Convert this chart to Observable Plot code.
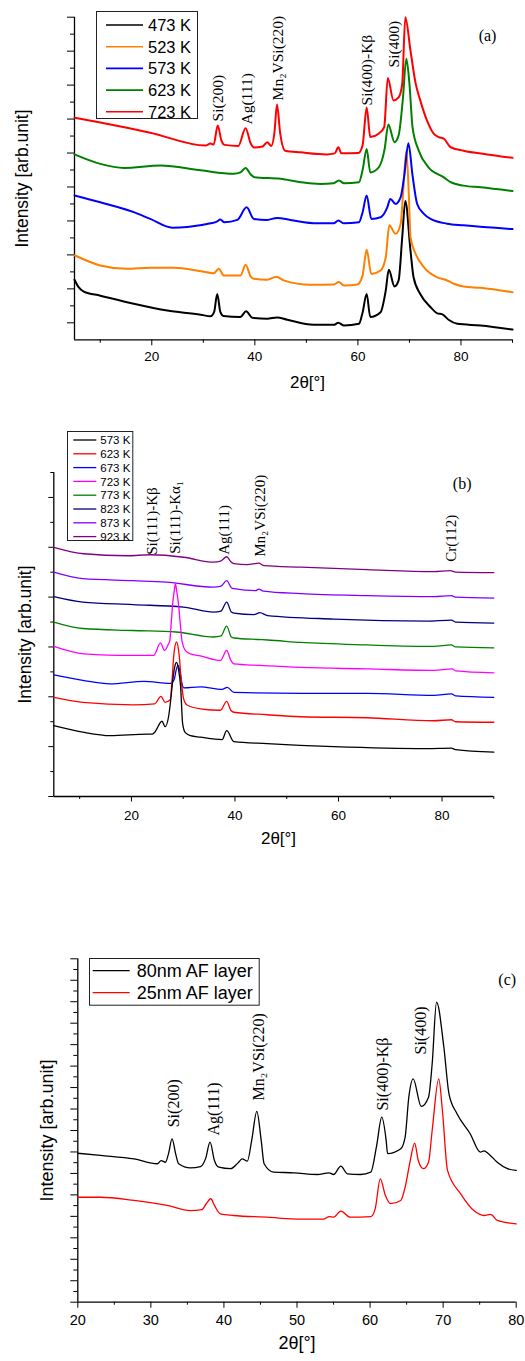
<!DOCTYPE html>
<html><head><meta charset="utf-8">
<script src="https://cdn.jsdelivr.net/npm/d3@7"></script>
<script src="https://cdn.jsdelivr.net/npm/@observablehq/plot@0.6"></script>
<style>
html,body{margin:0;padding:0;background:#fff}
#root{position:relative;width:525px;height:1361px;overflow:hidden;background:#fff}
.pane{position:absolute;left:0}
.legend{position:absolute;overflow:visible}
</style></head><body>
<div id="root"></div>
<script>
// ---------- Panel (a): annealing temperature series ----------
const aLabels = ["473 K", "523 K", "573 K", "623 K", "723 K"];
const aColors = ["#000000", "#ff8000", "#0000ff", "#008000", "#ff0000"];
const a473 = [[5,1.77],[5.8,1.55],[6.8,1.42],[10,1.30],[16.5,1.06],[23,0.86],[29.5,0.74],[31.4,0.69],[32.1,0.82],[32.7,1.35],[33.3,0.82],[33.9,0.70],[37.2,0.67],[38.3,0.84],[39.5,0.65],[42.4,0.62],[44.3,0.66],[46.3,0.59],[51.4,0.44],[55.3,0.44],[56.2,0.50],[57.3,0.42],[60.2,0.47],[60.9,0.80],[61.7,1.35],[62.4,0.67],[64.4,0.81],[65.4,1.45],[66.0,2.06],[67.1,1.57],[67.9,1.75],[68.6,3.02],[69.2,4.09],[70.2,2.63],[70.8,1.84],[72.1,1.35],[74.1,0.96],[75.4,0.78],[76.4,0.75],[77.6,0.59],[79.3,0.47],[83.8,0.42],[90,0.30]];
const a523 = [[5,2.49],[10,2.19],[15.2,2.09],[19.7,2.12],[24.3,2.12],[29.5,2.02],[32,1.96],[33,2.09],[34,1.89],[37.2,1.89],[38.2,2.21],[39.2,1.86],[39.8,1.80],[42.4,1.77],[44.2,1.86],[45.6,1.75],[50.8,1.62],[55.3,1.63],[56.3,1.70],[57.3,1.60],[59.9,1.63],[60.9,1.89],[61.7,2.65],[62.6,1.94],[64.4,2.04],[65.4,2.43],[66.1,3.37],[67.3,3.12],[68.3,3.42],[68.8,4.40],[69.4,5.57],[69.9,4.20],[70.2,3.02],[71.2,2.53],[72.8,2.14],[75.4,1.84],[77.0,1.77],[78.6,1.65],[80.5,1.57],[83.8,1.53],[90,1.40]];
const a573 = [[5,4.25],[10,4.05],[16.5,3.76],[19.7,3.56],[24,3.30],[26.9,3.32],[31.4,3.43],[32.6,3.48],[33.3,3.54],[34.1,3.46],[36.6,3.53],[38.4,3.90],[39.8,3.56],[42.4,3.53],[44.3,3.59],[46.9,3.53],[52.1,3.43],[55.3,3.43],[56.2,3.51],[57.3,3.43],[60.2,3.46],[60.9,3.75],[61.7,4.25],[62.6,3.56],[64.4,3.61],[65.7,3.90],[66.3,4.15],[67.3,4.00],[68.3,4.20],[69.0,4.84],[69.8,5.79],[70.6,4.84],[71.5,4.00],[72.8,3.71],[74.1,3.56],[77.3,3.42],[80.5,3.37],[90,3.26]];
const a623 = [[5,5.46],[10,5.18],[14.6,5.06],[21.7,5.13],[29.5,4.99],[35.9,4.89],[37.2,4.93],[38.2,5.06],[39.2,4.87],[39.9,4.79],[45,4.74],[48.9,4.64],[52.7,4.59],[55.3,4.61],[56.3,4.69],[57.3,4.61],[60.2,4.64],[60.9,4.99],[61.7,5.62],[62.4,4.93],[64.0,5.07],[65.2,5.63],[65.9,6.34],[67.1,5.82],[67.9,6.02],[68.7,7.05],[69.4,8.28],[70.0,7.54],[70.6,6.26],[71.8,5.57],[73.7,5.08],[76.6,4.79],[78.0,4.64],[80.5,4.54],[83.8,4.49],[90,4.38]];
const a723 = [[5,6.54],[10,6.40],[19.7,6.10],[30.4,5.72],[31.4,5.78],[32.0,5.75],[32.8,6.31],[33.5,5.87],[34.1,5.74],[36.8,5.71],[38.2,6.23],[39.2,5.78],[39.9,5.66],[41.5,5.69],[42.4,5.82],[43.2,5.71],[43.8,6.1],[44.3,6.93],[44.9,6.1],[45.9,5.57],[48.9,5.52],[53.9,5.46],[55.5,5.49],[56.2,5.67],[56.8,5.49],[60.1,5.50],[60.9,5.72],[61.7,6.84],[62.4,5.97],[64.0,6.07],[65.1,6.26],[65.8,7.71],[66.9,7.05],[67.9,7.14],[68.6,7.54],[69.2,9.50],[70.2,8.52],[71.2,7.55],[72.1,7.05],[73.4,6.46],[74.7,6.07],[75.7,5.97],[76.7,5.92],[78.0,5.67],[80.5,5.57],[85.1,5.46],[90,5.36]];
const aAnnText = ["Si(200)", "Ag(111)", "Mn\u2082VSi(220)", "Si(400)-K\u03b2", "Si(400)"];
const aAnnX = [32.9, 38.4, 44.5, 61.8, 67.1];
const aAnnY = [6.43, 6.34, 7.05, 6.90, 8.02];
const aXMajor = [20, 40, 60, 80];
const aXMinor = [10, 30, 50, 70, 90];
const aYMajor = [0.5, 1.5, 2.5, 3.5, 4.5, 5.5, 6.5, 7.5, 8.5, 9.5];
const aYMinor = [1, 2, 3, 4, 5, 6, 7, 8, 9];

// ---------- Panel (b) ----------
const bLabels = ["573 K", "623 K", "673 K", "723 K", "773 K", "823 K", "873 K", "923 K"];
const bColors = ["#000000", "#ff0000", "#0000ff", "#ff00ff", "#008000", "#000080", "#8000ff", "#800080"];
const b573 = [[5,1.42],[10.6,1.29],[15.9,1.22],[23,1.25],[24.0,1.25],[24.5,1.29],[25.9,1.51],[26.5,1.40],[27.2,1.62],[27.6,1.95],[28.0,2.35],[28.4,2.62],[28.7,2.69],[29.1,2.55],[29.5,2.20],[29.9,1.45],[30.4,1.28],[31.4,1.22],[33.3,1.19],[37.5,1.14],[38.4,1.32],[39.8,1.10],[46.2,1.06],[59.1,1.00],[77.1,0.96],[81.8,0.97],[82.6,0.94],[90,0.89]];
const b623 = [[5,1.99],[10.6,1.89],[20.3,1.84],[24.5,1.86],[25.7,2.01],[26.5,1.89],[27.5,1.94],[27.85,2.35],[28.2,2.85],[28.7,3.10],[29.2,2.85],[29.6,2.35],[30.1,1.95],[30.8,1.83],[33.3,1.76],[37.2,1.73],[38.4,1.91],[39.2,1.73],[39.8,1.69],[46.2,1.64],[52.7,1.60],[65.5,1.58],[78.4,1.52],[81.8,1.54],[82.6,1.50],[90,1.49]];
const b673 = [[5,2.44],[10.6,2.33],[15.9,2.26],[22.4,2.31],[27.5,2.27],[27.9,2.29],[28.3,2.36],[28.6,2.52],[29.0,2.63],[29.4,2.50],[29.7,2.30],[30.1,2.18],[33.3,2.20],[37.5,2.15],[38.5,2.19],[39.8,2.09],[52.7,2.07],[65.5,2.07],[78.4,2.03],[81.8,2.06],[82.6,2.02],[90,1.99]];
const b723 = [[5,3.01],[10.8,2.86],[17.2,2.83],[24.3,2.83],[25.6,3.08],[26.4,2.93],[27.1,3.05],[27.4,3.12],[27.7,3.50],[27.95,3.85],[28.3,4.15],[28.5,4.27],[28.7,4.15],[29.1,3.85],[29.4,3.50],[29.8,3.10],[30.4,2.93],[31.4,2.86],[33.3,2.82],[37.2,2.73],[38.4,2.93],[39.2,2.73],[39.8,2.66],[44.9,2.63],[52.7,2.59],[65.5,2.56],[78.4,2.53],[82.0,2.56],[82.6,2.52],[90,2.48]];
const b773 = [[5,3.50],[10.6,3.37],[20.3,3.33],[28.6,3.30],[35.9,3.20],[37.3,3.22],[38.4,3.42],[39.3,3.20],[39.8,3.18],[44.3,3.15],[46.3,3.14],[52.7,3.09],[65.5,3.04],[78.4,3.01],[81.8,3.04],[82.6,3.00],[90,2.98]];
const b823 = [[5,4.01],[10.6,3.90],[20.3,3.85],[30,3.80],[35.9,3.70],[37.3,3.72],[38.4,3.90],[39.3,3.70],[39.8,3.68],[43.7,3.65],[44.8,3.69],[46.3,3.63],[59.1,3.56],[77.1,3.52],[81.8,3.54],[82.6,3.50],[90,3.48]];
const b873 = [[5,4.50],[10.6,4.37],[20.3,4.33],[26.7,4.30],[35.9,4.20],[37.3,4.22],[38.4,4.33],[39.3,4.19],[39.8,4.17],[44.0,4.13],[44.6,4.16],[45.5,4.12],[52.7,4.07],[65.5,4.03],[78.4,4.01],[81.8,4.03],[82.6,4.00],[90,3.98]];
const b923 = [[5,5.00],[10.8,4.87],[19.2,4.83],[23.7,4.85],[30.1,4.80],[35.9,4.70],[37.2,4.72],[38.4,4.81],[39.2,4.71],[39.8,4.67],[42.4,4.65],[44.6,4.68],[45.6,4.63],[52.7,4.60],[65.5,4.55],[78.4,4.51],[81.6,4.53],[82.6,4.50],[90,4.49]];
const bAnnText = ["Si(111)-K\u03b2", "Si(111)-K\u03b1\u2081", "Ag(111)", "Mn\u2082VSi(220)", "Cr(112)"];
const bAnnX = [24.0, 28.5, 38.0, 44.9, 81.8];
const bAnnY = [4.85, 4.87, 4.85, 4.81, 4.71];
const bXMajor = [20, 40, 60, 80];
const bXMinor = [10, 30, 50, 70, 90];
const bYMajor = [0, 1, 2, 3, 4, 5, 6];
const bYMinor = [0.5, 1.5, 2.5, 3.5, 4.5, 5.5, 6.5];

// ---------- Panel (c) ----------
const cLabels = ["80nm AF layer", "25nm AF layer"];
const cColors = ["#000000", "#ff0000"];
const c80 = [[20,6.94],[23.1,6.84],[27.7,6.68],[30.9,6.45],[31.4,6.60],[32.0,6.52],[32.4,6.90],[32.9,7.61],[33.4,6.90],[33.8,6.45],[35.4,6.26],[36.8,6.32],[37.5,6.70],[38.1,7.46],[38.7,6.60],[39.3,6.29],[40.9,6.22],[41.9,6.48],[42.5,6.68],[43.2,6.57],[43.8,7.54],[44.5,8.89],[45.1,7.54],[45.5,6.45],[46.8,6.06],[49.6,6.03],[52.8,5.95],[54.4,6.03],[55.0,5.95],[56.0,6.34],[56.9,5.98],[58.7,5.95],[60.1,6.06],[60.9,7.30],[61.6,8.62],[62.2,7.54],[62.4,6.92],[64.2,7.15],[64.8,7.69],[65.3,9.55],[65.9,10.41],[67.0,9.12],[68.0,9.55],[68.5,11.11],[69.1,13.98],[70.1,11.88],[70.8,9.71],[71.9,8.78],[73.7,7.85],[75.1,6.99],[75.6,7.05],[76.2,6.92],[77.4,6.52],[78.8,6.22],[80,6.14]];
const c25 = [[20,4.89],[23.1,4.89],[27.7,4.74],[32.2,4.51],[35.4,4.27],[37.0,4.31],[37.6,4.60],[38.2,4.82],[38.7,4.51],[39.5,4.12],[41.3,4.04],[45.9,3.96],[50.5,3.87],[53.7,3.87],[54.4,3.99],[55.0,3.96],[56.0,4.24],[57.3,3.96],[60.1,3.99],[60.7,4.35],[61.4,5.75],[62.1,4.97],[62.8,4.59],[64.2,4.74],[64.8,5.36],[65.5,6.60],[66.1,7.41],[66.6,6.60],[67.3,6.22],[68.0,6.52],[68.5,8.00],[69.4,10.41],[69.9,8.93],[70.6,6.14],[72.4,5.05],[74.2,4.27],[75.6,4.04],[76.5,4.09],[77.4,3.81],[80,3.65]];
const cAnnText = ["Si(200)", "Ag(111)", "Mn\u2082VSi(220)", "Si(400)-K\u03b2", "Si(400)"];
const cAnnX = [33.1, 38.6, 44.8, 61.7, 67.0];
const cAnnY = [8.15, 7.77, 9.40, 8.93, 11.54];
const cXMajor = [20, 30, 40, 50, 60, 70, 80];
const cXMinor = [25, 35, 45, 55, 65, 75];
const cYMajor = d3.range(0, 17, 1);
const cYMinor = d3.range(0.5, 16, 1);

// ---------- rendering ----------
const sans = '"Liberation Sans", Arial, Helvetica, sans-serif';
const serif = '"Liberation Serif", "Times New Roman", Times, serif';
const root = document.getElementById("root");

function rowsOf(series, labels, order) {
  return order.flatMap(i => series[i].map(([x, y]) => ({x, y, s: labels[i]})));
}
function annOf(t, xs, ys) { return t.map((d, i) => ({t: d, x: xs[i], y: ys[i]})); }

function panel(c) {
  const rows = rowsOf(c.series, c.labels, c.order);
  const svg = Plot.plot({
    width: 525, height: c.height,
    marginTop: c.m[0], marginRight: c.m[1], marginBottom: c.m[2], marginLeft: c.m[3],
    x: {domain: c.xDomain, label: null},
    y: {domain: c.yDomain, label: null},
    color: {domain: c.labels, range: c.colors},
    style: {fontFamily: sans, fontSize: c.tickFont + "px", color: "#000", background: "transparent", overflow: "visible"},
    marks: [
      Plot.axisX({ticks: c.xMajor, tickSize: c.xTick[0], tickPadding: c.xPad, tickFormat: d => String(d), label: null}),
      Plot.axisX({ticks: c.xMinor, tickSize: c.xTick[1], tickFormat: () => "", label: null}),
      Plot.axisY({ticks: c.yMajor, tickSize: c.yTick[0], tickFormat: () => "", label: null}),
      Plot.axisY({ticks: c.yMinor, tickSize: c.yTick[1], tickFormat: () => "", label: null}),
      Plot.ruleX([c.xDomain[0]], {stroke: "#000", strokeWidth: 1.3}),
      Plot.ruleY([c.yDomain[0]], {stroke: "#000", strokeWidth: 1.3}),
      Plot.line(rows, {x: "x", y: "y", z: "s", stroke: "s", strokeWidth: c.lw, curve: "monotone-x"}),
      Plot.text(c.ann, {x: "x", y: "y", text: "t", rotate: -90, textAnchor: "start", lineAnchor: "middle", fontFamily: serif, fontSize: c.annFont, fill: "#000"}),
      Plot.text(["2\u03b8[\u00b0]"], {text: d => d, frameAnchor: "bottom", textAnchor: "middle", lineAnchor: "middle", dx: c.xTitle[0], dy: c.xTitle[1], fontSize: c.xTitle[2], fontFamily: sans}),
      Plot.text(["Intensity [arb.unit]"], {text: d => d, frameAnchor: "left", textAnchor: "middle", lineAnchor: "middle", dx: -c.yTitle[0], rotate: -90, fontSize: c.yTitle[1], fontFamily: sans}),
      Plot.text([c.letter], {text: d => d, frameAnchor: "top-right", textAnchor: "middle", lineAnchor: "middle", dx: c.letterPos[0], dy: c.letterPos[1], fontFamily: serif, fontSize: 16})
    ]
  });
  const wrap = document.createElement("div");
  wrap.className = "pane";
  wrap.style.top = c.top + "px";
  wrap.appendChild(svg);
  root.appendChild(wrap);
}

function legend(c) {
  const pad = 8;
  const svg = d3.create("svg").attr("width", c.w + 2 * pad).attr("height", c.h + 2 * pad)
    .attr("class", "legend").style("left", (c.left - pad) + "px").style("top", (c.top - pad) + "px");
  const g = svg.append("g").attr("transform", `translate(${pad},${pad})`);
  g.append("rect").attr("x", 0.5).attr("y", 0.5).attr("width", c.w - 1).attr("height", c.h - 1)
    .attr("fill", "#fff").attr("stroke", "#222").attr("stroke-width", 1);
  c.labels.forEach((lab, i) => {
    const y = c.row0 + i * c.step;
    g.append("line").attr("x1", c.lx[0]).attr("x2", c.lx[1]).attr("y1", y).attr("y2", y)
      .attr("stroke", c.colors[i]).attr("stroke-width", c.lw);
    g.append("text").attr("x", c.tx).attr("y", y).attr("dy", "0.36em")
      .attr("font-family", sans).attr("font-size", c.font).attr("fill", "#000").text(lab);
  });
  root.appendChild(svg.node());
}

panel({
  top: 0, height: 400, m: [16.7, 13, 60.7, 74],
  series: [a473, a523, a573, a623, a723], labels: aLabels, colors: aColors, order: [0, 1, 2, 3, 4],
  xDomain: [5, 90], yDomain: [0, 9.5],
  xMajor: aXMajor, xMinor: aXMinor, yMajor: aYMajor, yMinor: aYMinor,
  xTick: [6, 3.5], yTick: [7, 4], xPad: 6, tickFont: 13.5, lw: 2,
  ann: annOf(aAnnText, aAnnX, aAnnY), annFont: 15.5,
  xTitle: [14, 42.4, 17], yTitle: [52, 17.5], letter: "(a)", letterPos: [-25, 18.3]
});
panel({
  top: 420, height: 440, m: [52, 31.7, 64, 53.3],
  series: [b573, b623, b673, b723, b773, b823, b873, b923], labels: bLabels, colors: bColors, order: [7, 6, 5, 4, 3, 2, 1, 0],
  xDomain: [5, 90], yDomain: [0, 6.5],
  xMajor: bXMajor, xMinor: bXMinor, yMajor: bYMajor, yMinor: bYMinor,
  xTick: [5.5, 3], yTick: [5, 3], xPad: 8, tickFont: 13.5, lw: 1.3,
  ann: annOf(bAnnText, bAnnX, bAnnY), annFont: 15,
  xTitle: [4.7, 42, 17], yTitle: [28.3, 17.5], letter: "(b)", letterPos: [-31.6, 11]
});
panel({
  top: 900, height: 461, m: [58.3, 9.3, 59.3, 77.3],
  series: [c80, c25], labels: cLabels, colors: cColors, order: [0, 1],
  xDomain: [20, 80], yDomain: [0, 16],
  xMajor: cXMajor, xMinor: cXMinor, yMajor: cYMajor, yMinor: cYMinor,
  xTick: [6, 3], yTick: [7, 4], xPad: 7, tickFont: 14.5, lw: 1.3,
  ann: annOf(cAnnText, cAnnX, cAnnY), annFont: 16,
  xTitle: [0, 41.3, 18], yTitle: [30.6, 18], letter: "(c)", letterPos: [-9, 20.7]
});

legend({left: 96, top: 11, w: 102, h: 108, labels: aLabels, colors: aColors, row0: 14, step: 21.7, lx: [10, 47], tx: 52, font: 16.5, lw: 1.6});
legend({left: 66.7, top: 431, w: 66.3, h: 110, labels: bLabels, colors: bColors, row0: 9, step: 13.8, lx: [6.3, 29.3], tx: 33.3, font: 11.5, lw: 1.3});
legend({left: 89.3, top: 958.3, w: 170.7, h: 47.7, labels: cLabels, colors: cColors, row0: 12.7, step: 22, lx: [3.7, 40.7], tx: 47.7, font: 18, lw: 1.3});
</script>
</body></html>
